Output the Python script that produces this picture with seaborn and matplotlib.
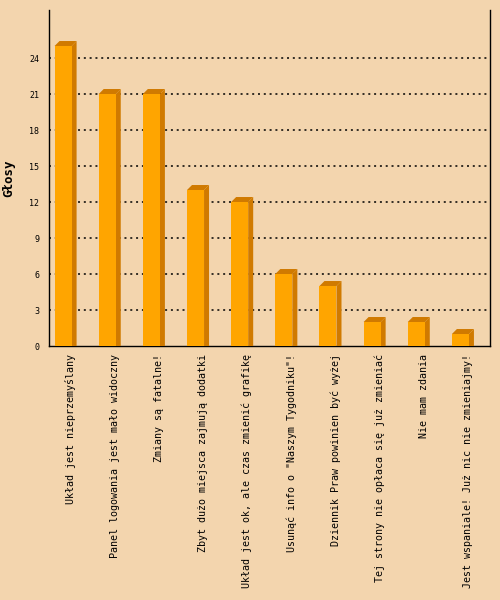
import matplotlib
matplotlib.use("Agg")
import matplotlib.pyplot as plt
import seaborn as sns
import pandas as pd
import numpy as np
from matplotlib.patches import Polygon
from matplotlib.ticker import FixedLocator

answers = [
    "Układ jest nieprzemyślany",
    "Panel logowania jest mało widoczny",
    "Zmiany są fatalne!",
    "Zbyt dużo miejsca zajmują dodatki",
    "Układ jest ok, ale czas zmienić grafikę",
    "Usunąć info o \"Naszym Tygodniku\"!",
    "Dziennik Praw powinien być wyżej",
    "Tej strony nie opłaca się już zmieniać",
    "Nie mam zdania",
    "Jest wspaniale! Już nic nie zmieniajmy!",
]
votes = [25, 21, 21, 13, 12, 6, 5, 2, 2, 1]

bg = "#F3D5AE"
front = "#FFA500"
side = "#D07A00"

df = pd.DataFrame({"answer": answers, "votes": votes})

sns.set_style("white")
plt.rcParams["font.family"] = ["DejaVu Sans Mono", "DejaVu Sans"]
plt.rcParams["text.color"] = "black"
plt.rcParams["axes.labelcolor"] = "black"
plt.rcParams["xtick.color"] = "black"
plt.rcParams["ytick.color"] = "black"

fig = plt.figure(figsize=(5, 6), dpi=100, facecolor=bg)
ax = fig.add_axes([0.097, 0.4233, 0.883, 0.56])
ax.set_facecolor(bg)

sns.barplot(data=df, x="answer", y="votes", color=front, width=0.386,
            saturation=1, ax=ax, zorder=3, linewidth=0)

ax.set_xlim(-0.33, len(answers) - 0.33)
ax.set_ylim(0, 28)
fig.canvas.draw()

# 3D faces: depth 5 px right and 5 px up
d = 5
inv = ax.transData.inverted()
for p in ax.patches[:len(votes)]:
    x0, y0 = p.get_x(), p.get_y()
    x1, h = x0 + p.get_width(), y0 + p.get_height()
    (px0, py0), (px1, ph) = ax.transData.transform([(x0, y0), (x1, h)])
    top = inv.transform([(px0, ph), (px1, ph), (px1 + d, ph + d), (px0 + d, ph + d)])
    sd = inv.transform([(px1, py0), (px1, ph), (px1 + d, ph + d), (px1 + d, py0)])
    ax.add_patch(Polygon(top, closed=True, facecolor=side, edgecolor="none", zorder=2.9))
    ax.add_patch(Polygon(sd, closed=True, facecolor=side, edgecolor="none", zorder=2.9))

# dotted grid
ax.set_yticks(np.arange(0, 25, 3))
for yv in np.arange(3, 25, 3):
    ax.axhline(yv, color="black", linestyle=(0, (1.3, 2.5)), linewidth=1.1, zorder=1)

# labels at slot centers, ticks at slot boundaries
pos = np.arange(len(answers))
ax.xaxis.set_major_locator(FixedLocator(pos + 0.17))
ax.set_xticklabels(answers, rotation=90, fontsize=7.2, va="top", ha="center", color="black")
ax.xaxis.set_minor_locator(FixedLocator(np.append(pos - 0.33, len(answers) - 0.33)))
ax.tick_params(axis="x", which="major", length=0, pad=6)
ax.tick_params(axis="x", which="minor", length=8, direction="inout", width=1, color="black")
ax.tick_params(axis="y", which="major", length=9, direction="inout", width=1,
               color="black", labelsize=6, pad=2)

ax.set_xlabel("")
ax.set_ylabel("Głosy", fontsize=9, fontweight="bold", color="black")
ax.yaxis.set_label_coords(-0.075, 0.5)

for s in ["left", "bottom", "right"]:
    ax.spines[s].set_visible(True)
    ax.spines[s].set_color("black")
    ax.spines[s].set_linewidth(1)
ax.spines["top"].set_visible(False)

fig.savefig("out.png", dpi=100, facecolor=bg)
